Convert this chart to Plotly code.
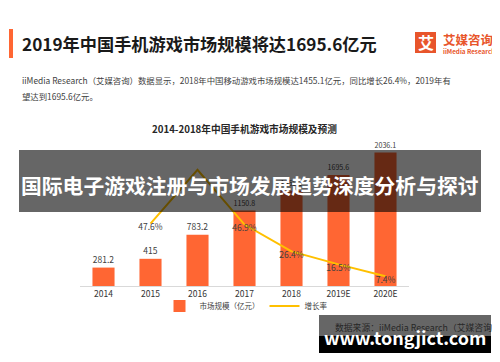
import plotly.graph_objects as go

# ---- data ----
years = ["2014", "2015", "2016", "2017", "2018", "2019E", "2020E"]
market_size = [281.2, 415, 783.2, 1150.8, 1455.1, 1695.6, 2036.1]
growth_years = ["2015", "2016", "2017", "2018", "2019E", "2020E"]
growth_rate = [47.6, 88.7, 46.9, 26.4, 16.5, 7.4]
growth_labels = ["47.6%", "", "46.9%", "26.4%", "16.5%", "7.4%"]

# page has an 8px body margin; figure sized to fit the 500x362 window
OFF = 8
W, H = 500 - OFF, 362 - OFF
FONT = "Noto Sans CJK SC"
BAR_C = "#FF6633"
LINE_C = "#FFC000"


def px(x):
    return (x - OFF) / W


def py(y):
    return (H - (y - OFF)) / H


fig = go.Figure()
fig.add_trace(go.Bar(
    x=years, y=market_size, name="市场规模（亿元）",
    marker=dict(color=BAR_C, line=dict(width=0)),
    text=[f"{v:g}" for v in market_size], textposition="outside",
    textfont=dict(size=8.5, color="#404040", family=FONT),
    cliponaxis=False, yaxis="y",
))
fig.add_trace(go.Scatter(
    x=growth_years, y=growth_rate, name="增长率", mode="lines+text",
    line=dict(color=LINE_C, width=2),
    text=growth_labels, textposition="bottom center",
    textfont=dict(size=8.5, color="#404040", family=FONT),
    cliponaxis=False, yaxis="y2",
))

shapes = [
    dict(type="rect", xref="paper", yref="paper", x0=px(9), x1=px(13), y0=py(58), y1=py(29),
         fillcolor="#FF6633", line=dict(width=0)),
    dict(type="rect", xref="paper", yref="paper", x0=px(415), x1=px(436), y0=py(53), y1=py(32),
         fillcolor="#E8552B", line=dict(width=0)),
    dict(type="rect", xref="paper", yref="paper", x0=px(19), x1=px(481), y0=py(212), y1=py(150),
         fillcolor="rgba(0,0,0,0.6)", line=dict(width=0), layer="above"),
    dict(type="rect", xref="paper", yref="paper", x0=px(319), x1=px(491), y0=py(336), y1=py(315),
         fillcolor="#666666", line=dict(width=0), layer="above"),
    dict(type="rect", xref="paper", yref="paper", x0=px(319), x1=px(491), y0=py(353), y1=py(336),
         fillcolor="#000000", line=dict(width=0), layer="above"),
]

annotations = [
    dict(text="<b>2019年中国手机游戏市场规模将达1695.6亿元</b>", x=px(20), y=py(43),
         xanchor="left", yanchor="middle", font=dict(size=17.2, color="#1a1a1a", family=FONT)),
    dict(text="<b>艾</b>", x=px(425.5), y=py(42.5), xanchor="center", yanchor="middle",
         font=dict(size=16, color="white", family=FONT)),
    dict(text="<b>艾媒咨询</b>", x=px(441), y=py(39), xanchor="left", yanchor="middle",
         font=dict(size=12.5, color="#E8552B", family=FONT)),
    dict(text="<b>iiMedia Research</b>", x=px(441), y=py(51), xanchor="left", yanchor="middle",
         font=dict(size=6.3, color="#E8552B", family=FONT)),
    dict(text="iiMedia Research（艾媒咨询）数据显示，2018年中国移动游戏市场规模达1455.1亿元，同比增长26.4%，2019年有",
         x=px(20), y=py(80), xanchor="left", yanchor="middle",
         font=dict(size=8.4, color="#404040", family=FONT)),
    dict(text="望达到1695.6亿元。", x=px(20), y=py(96), xanchor="left", yanchor="middle",
         font=dict(size=8.4, color="#404040", family=FONT)),
    dict(text="<b>2014-2018年中国手机游戏市场规模及预测</b>", x=px(244), y=py(129),
         xanchor="center", yanchor="middle", font=dict(size=9.7, color="#262626", family=FONT)),
    dict(text="<b>国际电子游戏注册与市场发展趋势深度分析与探讨</b>", x=px(250), y=py(185),
         xanchor="center", yanchor="middle", font=dict(size=20.8, color="white", family=FONT)),
    dict(text="数据来源：iiMedia Research（艾媒咨询）", x=px(333), y=py(327),
         xanchor="left", yanchor="middle", font=dict(size=8.8, color="#262626", family=FONT)),
    dict(text="<b>www.tongjict.com</b>", x=px(405), y=py(337), xanchor="center", yanchor="middle",
         font=dict(size=18, color="white", family=FONT)),
]
for a in annotations:
    a.update(xref="paper", yref="paper", showarrow=False)

fig.update_layout(
    width=W, height=H, margin=dict(l=0, r=0, t=0, b=0),
    paper_bgcolor="white", plot_bgcolor="white",
    font=dict(family=FONT, size=9, color="#404040"),
    bargap=0.53,
    xaxis=dict(domain=[px(80), px(409)], range=[-0.5, 6.5], showgrid=False,
               showline=True, linecolor="#D9D9D9", linewidth=1, ticks="",
               tickfont=dict(size=8.5, color="#333333"), categoryorder="array", categoryarray=years),
    yaxis=dict(domain=[py(286), py(150)], range=[0, 2076], visible=False, showgrid=False),
    yaxis2=dict(overlaying="y", range=[0, 103.8], visible=False, showgrid=False),
    legend=dict(orientation="h", x=px(246), xanchor="center", y=py(306), yanchor="middle",
                font=dict(size=7.5, color="#404040"), itemwidth=30,
                bgcolor="rgba(0,0,0,0)"),
    shapes=shapes, annotations=annotations,
)

fig.write_html("out.html")
